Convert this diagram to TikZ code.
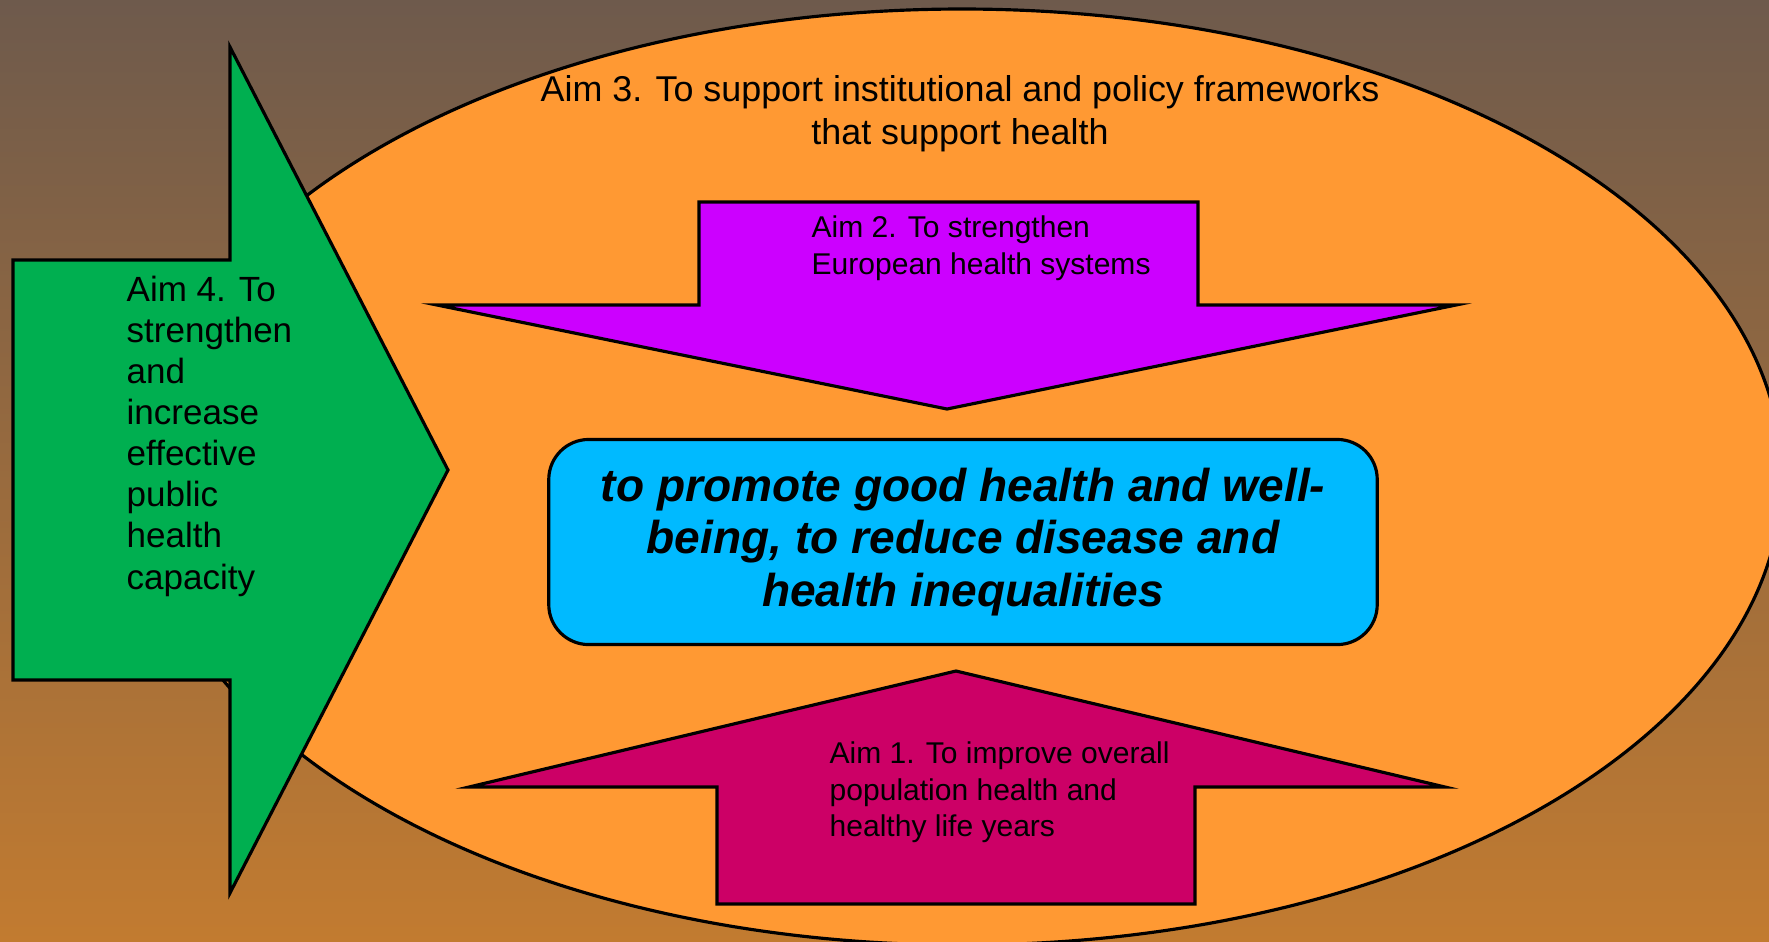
\documentclass[tikz,border=0pt]{standalone}
\usepackage{fontspec}
\setmainfont{Liberation Sans}
\usetikzlibrary{shapes.geometric}
\definecolor{bgtop}{HTML}{6E5A4C}
\definecolor{bgbottom}{HTML}{C27B30}
\definecolor{aimorange}{HTML}{FF9933}
\definecolor{aimgreen}{HTML}{00AF50}
\definecolor{aimpurple}{HTML}{CC00FF}
\definecolor{aimcrimson}{HTML}{CC0066}
\definecolor{goalcyan}{HTML}{00BAFF}
\tikzstyle{outline} = [draw=black, line width=0.9pt, line join=miter]
\tikzstyle{bigaim} = [font=\fontsize{9.96}{11.7}\selectfont, inner sep=0pt]
\tikzstyle{smallaim} = [font=\fontsize{8.54}{10.4}\selectfont, align=left, inner sep=0pt, anchor=north west]
\tikzstyle{goal} = [rectangle, rounded corners=0.4cm, minimum width=8.28cm, minimum height=2.05cm, align=center, text centered, draw=black, line width=0.9pt, fill=goalcyan, font=\fontsize{13.1}{14.9}\selectfont\bfseries\itshape]

\begin{document}
\begin{tikzpicture}[x=0.01cm, y=-0.01cm]
\useasboundingbox (0,0) rectangle (1769,941);
\clip (0,0) rectangle (1769,941);
\shade [top color=bgtop, bottom color=bgbottom] (0,0) rectangle (1769,941);
\draw [outline, fill=aimorange] (962,477) ellipse [x radius=820, y radius=468];
\draw [outline, fill=aimgreen] (13,260) -- (230,260) -- (230,47) -- (448,470) -- (230,893) -- (230,680) -- (13,680) -- cycle;
\draw [outline, fill=aimpurple] (699,202) -- (1198,202) -- (1198,305) -- (1456,305) -- (947,409) -- (437,305) -- (699,305) -- cycle;
\draw [outline, fill=aimcrimson] (717,904) -- (717,787) -- (469,787) -- (956,671) -- (1445,787) -- (1195,787) -- (1195,904) -- cycle;
\node (goal) [goal] at (963,542) {to promote good health and well-\\being, to reduce disease and\\health inequalities};
\node (aim3) [bigaim, align=center, anchor=north, font=\fontsize{10.2}{12.2}\selectfont] at (960,75) {Aim 3. To support institutional and policy frameworks\\that support health};
\node (aim4) [bigaim, align=left, anchor=north west] at (126,275) {Aim 4. To\\strengthen\\and\\increase\\effective\\public\\health\\capacity};
\node (aim2) [smallaim] at (811,215) {Aim 2. To strengthen\\European health systems};
\node (aim1) [smallaim] at (829,741) {Aim 1. To improve overall\\population health and\\healthy life years};
\end{tikzpicture}
\end{document}
